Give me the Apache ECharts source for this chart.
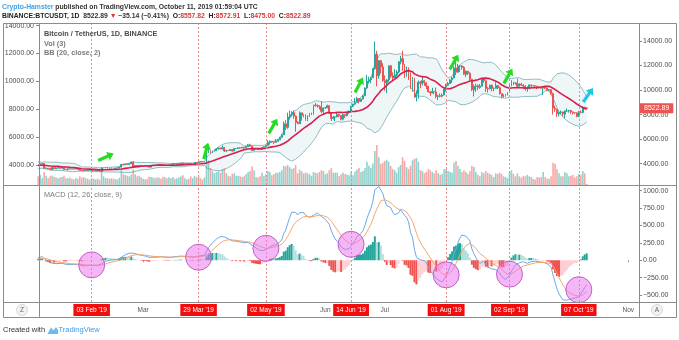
<!DOCTYPE html>
<html><head><meta charset="utf-8">
<script src="https://cdn.jsdelivr.net/npm/echarts@6/dist/echarts.min.js"></script>
<style>html,body{margin:0;padding:0;background:#fff}#c{width:679px;height:340px}</style>
</head><body><div id="c"></div>
<script>
// Daily BTCUSDT candles, 2018-12-01 .. 2019-10-11. x = day index relative to 2019-01-01
const firstDay = -31;
const firstOpen = 4040;
const closes = [
 4200,4140,3840,3950,3750,3500,3400,3410,3600,3480,3410,3480,3250,3200,3190,3200,3500,3660,3750,4120,3850,3990,3950,4040,3780,3800,3590,3860,3830,4080,3760,
 3797,3858,3766,3792,3770,4040,3985,3988,4011,3620,3630,3610,3500,3680,3580,3640,3670,3620,3720,3530,3550,3585,3560,3580,3565,3570,3530,3435,3400,3465,3435,
 3460,3500,3420,3420,3440,3400,3390,3650,3650,3700,3630,3650,3620,3600,3620,3645,3710,3930,3910,3980,3935,3990,4140,3770,3840,3820,3830,3820,
 3830,3840,3800,3715,3860,3875,3880,3865,3945,3930,3870,3885,3870,3880,3920,4010,3980,3985,4010,4050,3980,3990,4000,3990,3930,3950,4100,4090,4150,4140,4130,
 4150,4880,4975,4900,5040,5050,5200,5280,5200,5320,5030,5080,5070,5150,5030,5230,5240,5290,5270,5330,5290,5380,5530,5430,5080,5200,5200,5170,5150,5330,
 5370,5470,5750,5830,5780,5740,5830,5940,6150,6350,7250,6970,7800,7980,8180,7870,7350,7260,8150,7940,7990,7620,7880,7990,8060,8730,8780,8730,8660,8260,8540,
 8550,8730,8110,7680,7790,7810,8000,7930,7630,8000,7920,8170,8230,8690,8850,8980,9320,9080,9270,9530,10170,10720,10850,11010,11750,12930,11160,12400,11890,10770,
 10590,10830,11980,11160,10980,11230,11470,12310,12570,12100,11350,11800,11380,10200,10850,9420,9690,10640,10530,10760,10590,10320,9850,9770,9880,9850,9480,9530,9500,9590,10080,
 10400,10530,10820,10980,11800,11460,11960,11970,11850,11290,11540,11380,10880,10030,10300,10350,10220,10320,10920,10760,10130,10110,10400,10140,10140,10370,10190,9720,9490,9580,9600,
 9770,10390,10620,10580,10580,10320,10490,10400,10320,10100,10160,10420,10360,10360,10310,10260,10190,10160,10270,10170,9990,10030,9700,8530,8430,8070,8180,8210,8040,8300,
 8300,8340,8220,8150,8140,7860,8210,8180,8590,8558,8522.89
];
const highs = [
 4300,4310,4180,4080,3980,3880,3560,3500,3660,3630,3510,3540,3490,3280,3240,3260,3590,3680,3920,4150,4200,4000,4040,4240,4040,3880,3840,3890,3960,4140,4080,
 3850,3900,3870,3820,3850,4090,4070,4110,4060,4030,3690,3640,3620,3720,3700,3700,3680,3690,3790,3740,3560,3630,3620,3600,3580,3670,3580,3530,3440,3480,3485,
 3480,3510,3500,3440,3460,3450,3410,3720,3670,3700,3700,3670,3680,3630,3660,3690,3730,3990,4000,4000,4000,4000,4160,4210,3870,3850,3850,3900,
 3870,3850,3840,3820,3890,3910,3920,3950,3960,3950,3940,3900,3900,3920,3940,4080,4010,4060,4040,4060,4080,4010,4010,4010,4000,3960,4110,4100,4170,4170,4160,
 4190,5000,5350,5080,5060,5150,5250,5300,5280,5470,5330,5100,5120,5180,5190,5250,5270,5320,5330,5350,5340,5450,5600,5630,5470,5290,5230,5210,5200,5340,
 5400,5500,5900,5890,5840,5790,6000,6000,6180,6430,7450,7550,8150,8330,8280,8350,7950,7480,8260,8100,8060,8030,7950,8140,8160,8810,8930,8830,8740,9090,8580,
 8620,8810,8740,8110,7880,7860,8150,8050,7960,8080,8030,8240,8330,8720,8880,9350,9450,9320,9300,9600,10220,11240,11100,11080,11800,13970,13200,12450,12440,12200,
 11200,10900,11990,12050,11440,11700,11620,12350,12800,13200,12100,11900,11850,11450,11050,11000,9970,10780,10750,11100,10840,10650,10330,9920,10180,9900,10200,9600,9720,9720,10120,
 10500,10670,10910,11080,11930,12300,12130,12050,12030,11950,11600,11540,11450,10910,10450,10520,10460,10490,10960,10940,10760,10240,10440,10440,10200,10630,10390,10290,9720,9650,9670,
 9830,10440,10800,10680,10640,10920,10560,10590,10490,10390,10300,10450,10440,10420,10380,10350,10280,10270,10320,10290,10190,10090,10050,9800,8740,8480,8250,8330,8240,8340,
 8500,8370,8380,8240,8190,8170,8300,8330,8650,8640,8572.91
];
const lows = [
 3950,4070,3800,3780,3725,3470,3220,3300,3390,3440,3380,3400,3230,3170,3150,3180,3190,3440,3650,3740,3820,3800,3920,3950,3710,3720,3560,3580,3810,3820,3700,
 3707,3770,3730,3720,3760,3750,3970,3950,3980,3560,3560,3550,3480,3500,3560,3580,3600,3580,3620,3490,3500,3460,3540,3550,3530,3560,3500,3400,3380,3390,3420,
 3420,3440,3400,3400,3410,3370,3380,3380,3630,3620,3610,3590,3600,3570,3590,3620,3620,3700,3880,3900,3900,3920,3970,3740,3750,3800,3680,3800,
 3820,3800,3780,3690,3700,3830,3860,3820,3860,3900,3860,3830,3850,3810,3870,3920,3960,3940,3970,3990,3920,3970,3980,3960,3880,3910,3940,4060,4080,4110,4120,
 4110,4150,4860,4800,4900,4980,5040,5150,5160,5160,4950,4930,5050,5040,4980,5030,5210,5240,5220,5260,5230,5270,5370,5400,5040,5050,5170,5150,5110,5140,
 5320,5360,5460,5550,5720,5600,5730,5800,5930,6120,6340,6750,6850,7620,7850,7650,6600,7220,7250,7500,7780,7500,7460,7810,7960,8000,8650,8560,8420,8110,8030,
 8460,8530,8060,7480,7600,7450,7780,7790,7530,7520,7720,7850,8050,8170,8600,8800,8970,8920,9030,9230,9510,10100,10540,10560,10980,11650,10300,10920,11350,10680,
 9950,9750,10680,11000,10770,10980,11090,11380,12100,11570,10980,11090,10830,10100,9870,9370,9070,9300,10150,10370,10350,10080,9820,9530,9740,9650,9330,9180,9400,9400,9570,
 9880,10350,10510,10570,10950,11220,11420,11480,11660,11240,11060,11230,10780,9920,9470,9850,9990,10100,10280,10600,9850,9800,10050,9900,9900,10140,10070,9620,9320,9370,9450,
 9560,9760,10300,10410,10450,10160,10300,10330,10100,9950,9860,10050,10160,10300,10270,10070,10140,10100,9600,10080,9950,9900,9620,8000,8220,7800,7860,8010,7870,7710,
 8220,8160,8060,8010,8050,7790,7790,8120,8110,8450,8475.00
];
// volume, thousands of BTC
const volumes = [
 28,30,35,30,33,40,45,35,30,28,25,27,35,30,22,20,40,45,50,55,48,38,30,35,40,33,38,35,28,32,33,
 23,28,25,22,20,30,28,33,22,42,30,22,28,30,27,25,22,24,26,30,22,22,24,20,18,22,20,28,24,25,22,
 20,17,22,20,18,21,17,45,28,22,22,20,22,20,19,18,23,48,35,32,30,28,34,50,35,28,30,25,
 20,18,20,27,26,24,22,25,24,20,27,25,22,25,22,26,20,22,24,28,32,22,18,20,28,22,30,25,28,22,18,
 25,75,80,55,45,38,42,45,40,50,55,38,30,28,36,38,30,30,28,26,28,36,42,45,60,48,26,24,28,40,
 30,35,45,42,32,36,40,40,42,48,62,60,65,58,52,55,65,38,50,45,38,40,38,35,30,42,40,38,42,48,45,
 35,38,48,55,40,40,40,28,35,40,36,34,32,42,32,44,50,55,42,45,55,75,62,55,70,110,130,90,68,72,
 78,82,75,62,52,48,40,58,65,90,78,58,52,62,80,85,88,75,48,45,38,42,52,48,42,38,48,38,33,36,52,
 52,45,42,40,72,78,62,52,42,48,42,36,45,62,58,42,33,28,42,38,45,40,36,33,26,38,36,40,36,28,26,
 22,42,48,36,28,38,28,24,30,28,33,28,26,20,18,26,24,26,42,26,20,20,28,72,68,52,38,28,28,42,
 38,28,30,33,24,28,36,33,45,38,4
];
const lastPrice = 8522.89;
const markerDays = [33, 87, 121, 164, 212, 244, 279];
const markerLabels = ["03 Feb '19", "29 Mar '19", "02 May '19", "14 Jun '19", "01 Aug '19", "02 Sep '19", "07 Oct '19"];
const monthDays = [59, 151, 181, 304];
const monthLabels = ["Mar", "Jun", "Jul", "Nov"];
const priceTicks = [4000, 6000, 8000, 10000, 12000, 14000];
const macdTicks = [-500, -250, 0, 250, 500, 750, 1000];
const arrowDays = [40.2, 90.7, 124.6, 168, 216, 243.3];
const arrowPrices = [4542, 5032, 7070, 10413, 12288, 11146];
const cyanArrowDay = 283.7, cyanArrowPrice = 9597;
const circleDays = [33, 87, 121, 164, 212, 244, 279];
const circleValues = [-67, 43, 171, 229, -210, -200, -424];

// ---------- derived series ----------
const xs = closes.map((_, i) => firstDay + i);
const opens = closes.map((c, i) => i === 0 ? firstOpen : closes[i - 1]);
opens[opens.length - 1] = 8557.82;
const candles = closes.map((c, i) => {
  const o = opens[i];
  return [xs[i], o, c, Math.min(lows[i], o, c), Math.max(highs[i], o, c)];
});
const UP = '#26a69a', DOWN = '#ef5350';
const volData = volumes.map((v, i) => ({
  value: [xs[i], v],
  itemStyle: { color: closes[i] >= opens[i] ? 'rgba(38,166,154,0.5)' : 'rgba(239,83,80,0.5)' }
}));
// Bollinger Bands (20, close, 2)
const bbMid = [], bbLo = [], bbUp = [];
for (let i = 19; i < closes.length; i++) {
  const w = closes.slice(i - 19, i + 1);
  const m = w.reduce((a, b) => a + b, 0) / 20;
  const sd = Math.sqrt(w.reduce((a, b) => a + (b - m) * (b - m), 0) / 20);
  bbMid.push([xs[i], m]); bbLo.push([xs[i], m - 2 * sd]); bbUp.push([xs[i], m + 2 * sd]);
}
// MACD (12, 26, close, 9)
function ema(arr, n) { const k = 2 / (n + 1); let p = arr[0]; return arr.map((v, i) => (p = i === 0 ? v : v * k + p * (1 - k))); }
const e12 = ema(closes, 12), e26 = ema(closes, 26);
const macd = closes.map((_, i) => e12[i] - e26[i]);
const sig = ema(macd, 9);
const hist = macd.map((m, i) => m - sig[i]);
const histData = hist.map((h, i) => {
  const prev = i > 0 ? hist[i - 1] : h;
  let col;
  if (h >= 0) col = h >= prev ? '#26a69a' : '#b2dfdb';
  else col = h < prev ? '#ef5350' : '#ffcdd2';
  return { value: [xs[i], h], itemStyle: { color: col } };
});
const macdLine = macd.map((m, i) => [xs[i], m]);
const sigLine = sig.map((m, i) => [xs[i], m]);

const FONT = 'Liberation Sans';
const XMIN = 6.4, XMAX = 309.4;
const fmt = v => (v < 0 ? '\u2212' : '') + Math.abs(v).toFixed(2);
const arrowPath = 'path://M4,0 L8.5,5.5 L5.6,5.5 L5.6,15 L2.4,15 L2.4,5.5 L-0.5,5.5 Z';
const arrowRot = [-66, -15, -30, -28, -30, -30];

const vLines = markerDays.map(d => ({ xAxis: d }));
const vLineStyle = { color: '#f08a8a', type: [2, 2], width: 1 };
const HS = 6.8;

const chart = echarts.init(document.getElementById('c'));
chart.setOption({
  animation: false,
  backgroundColor: '#fff',
  textStyle: { fontFamily: FONT },
  title: [
    {
      left: 2, top: 2, padding: 0,
      text: '{a|Crypto-Hamster}{b| published on TradingView.com, October 11, 2019 01:59:04 UTC}\n' +
        '{c|BINANCE:BTCUSDT, 1D}{b|  8522.89 }{r|\u25BC}{b| \u221235.14 (\u22120.41%)  }{c|O:}{r|8557.82}{c|  H:}{r|8572.91}{c|  L:}{r|8475.00}{c|  C:}{r|8522.89}',
      textStyle: {
        fontFamily: FONT, lineHeight: 9.3,
        rich: {
          a: { color: '#3fa0e6', fontSize: HS, fontFamily: FONT, lineHeight: 9.3 },
          b: { color: '#333', fontSize: HS, fontFamily: FONT, lineHeight: 9.3 },
          c: { color: '#222', fontSize: HS, fontWeight: 'bold', fontFamily: FONT, lineHeight: 9.3 },
          r: { color: '#d63a3a', fontSize: HS, fontFamily: FONT, lineHeight: 9.3 }
        }
      }
    },
    {
      left: 44, top: 29.5, padding: 0,
      text: '{t|Bitcoin / TetherUS, 1D, BINANCE}\n{s|Vol (3)}\n{s|BB (20, close, 2)}',
      textStyle: {
        rich: {
          t: { color: '#4a4a4a', fontSize: 7.3, fontFamily: FONT, lineHeight: 9.5 },
          s: { color: '#7a7a7a', fontSize: 7.3, fontFamily: FONT, lineHeight: 9.5 }
        }
      }
    },
    {
      left: 44, top: 191, padding: 0,
      text: 'MACD (12, 26, close, 9)',
      textStyle: { color: '#7a7a7a', fontSize: 7.3, fontWeight: 'normal', fontFamily: FONT }
    }
  ],
  grid: [
    { left: 39, right: 40, top: 23, height: 162, show: false },
    { left: 39, right: 40, top: 185, height: 117, show: false }
  ],
  xAxis: [
    { type: 'value', gridIndex: 0, min: XMIN, max: XMAX, show: false, splitLine: { show: false } },
    {
      type: 'value', gridIndex: 1, min: XMIN, max: XMAX, splitLine: { show: false },
      axisLine: { show: false },
      axisTick: { show: true, length: 2, inside: false, customValues: monthDays, lineStyle: { color: '#999' } },
      axisLabel: {
        customValues: markerDays.concat(monthDays), margin: 2,
        formatter: v => {
          const i = markerDays.indexOf(v);
          if (i >= 0) return '{r|' + markerLabels[i] + '}';
          return '{p|' + monthLabels[monthDays.indexOf(v)] + '}';
        },
        rich: {
          r: { backgroundColor: '#f20d0d', color: '#fff', fontSize: 6.5, padding: [3, 3, 2, 3], fontFamily: FONT },
          p: { color: '#555', fontSize: 6.5, padding: [3, 3, 2, 3], fontFamily: FONT }
        }
      }
    }
  ],
  yAxis: [
    { // 0 price (right)
      type: 'value', gridIndex: 0, position: 'right', min: 2259, max: 15468, splitLine: { show: false },
      axisLine: { show: false },
      axisTick: { show: true, length: 3, customValues: priceTicks, lineStyle: { color: '#888' } },
      axisLabel: { customValues: priceTicks, formatter: fmt, color: '#4d4d4d', fontSize: 7, margin: 4, fontFamily: FONT }
    },
    { // 1 left price scale
      type: 'value', gridIndex: 0, position: 'left', min: 2573, max: 14186, splitLine: { show: false },
      axisLine: { show: false },
      axisTick: { show: true, length: 3, customValues: priceTicks, lineStyle: { color: '#888' } },
      axisLabel: { customValues: priceTicks, formatter: fmt, color: '#4d4d4d', fontSize: 7, margin: 5, fontFamily: FONT }
    },
    { // 2 volume
      type: 'value', gridIndex: 0, position: 'right', min: 0, max: 525, show: false, splitLine: { show: false }
    },
    { // 3 last price tag
      type: 'value', gridIndex: 0, position: 'right', min: 2259, max: 15468, splitLine: { show: false }, z: 10,
      axisLine: { show: false }, axisTick: { show: false },
      axisLabel: {
        customValues: [lastPrice], formatter: fmt, color: '#fff', backgroundColor: '#ef5350',
        padding: [2, 4, 1, 4], fontSize: 7, margin: 1, fontFamily: FONT
      }
    },
    { // 4 MACD
      type: 'value', gridIndex: 1, position: 'right', min: -600, max: 1081, splitLine: { show: false },
      axisLine: { show: false },
      axisTick: { show: true, length: 3, customValues: macdTicks, lineStyle: { color: '#888' } },
      axisLabel: { customValues: macdTicks, formatter: fmt, color: '#4d4d4d', fontSize: 7, margin: 4, fontFamily: FONT }
    }
  ],
  series: [
    {
      name: 'BB upper', type: 'line', xAxisIndex: 0, yAxisIndex: 0, data: bbUp,
      symbol: 'none', lineStyle: { color: '#8fbcc0', width: 1 },
      areaStyle: { color: '#eef6f7', opacity: 1 }, z: 0
    },
    {
      name: 'BB lower', type: 'line', xAxisIndex: 0, yAxisIndex: 0, data: bbLo,
      symbol: 'none', lineStyle: { color: '#8fbcc0', width: 1 },
      areaStyle: { color: '#ffffff', opacity: 1 }, z: 0
    },
    {
      name: 'Vol', type: 'bar', xAxisIndex: 0, yAxisIndex: 2, data: volData, barWidth: 1.6, z: 1
    },
    {
      name: 'Price', type: 'candlestick', xAxisIndex: 0, yAxisIndex: 0, data: candles,
      encode: { x: 0, y: [1, 2, 3, 4] }, barWidth: '72%', z: 3,
      itemStyle: { color: UP, color0: DOWN, borderColor: UP, borderColor0: DOWN, borderWidth: 1 },
      markLine: { silent: true, symbol: 'none', label: { show: false }, lineStyle: vLineStyle, data: vLines },
      markPoint: {
        data: arrowDays.map((d, i) => ({
          coord: [d, arrowPrices[i]], symbol: arrowPath, symbolSize: [9, 17], symbolRotate: arrowRot[i],
          itemStyle: { color: '#22dd22' }, label: { show: false }
        })).concat([{
          coord: [cyanArrowDay, cyanArrowPrice], symbol: arrowPath, symbolSize: [9, 17], symbolRotate: -35,
          itemStyle: { color: '#1ec8e6' }, label: { show: false }
        }])
      }
    },
    {
      name: 'BB basis', type: 'line', xAxisIndex: 0, yAxisIndex: 0, data: bbMid,
      symbol: 'none', lineStyle: { color: '#d81e4e', width: 1.6 }, z: 4
    },
    {
      name: 'Histogram', type: 'bar', xAxisIndex: 1, yAxisIndex: 4, data: histData, barWidth: 2, z: 2,
      markLine: { silent: true, symbol: 'none', label: { show: false }, lineStyle: vLineStyle, data: vLines }
    },
    {
      name: 'MACD', type: 'line', xAxisIndex: 1, yAxisIndex: 4, data: macdLine,
      symbol: 'none', lineStyle: { color: '#6aa8e8', width: 1 }, z: 3
    },
    {
      name: 'Signal', type: 'line', xAxisIndex: 1, yAxisIndex: 4, data: sigLine,
      symbol: 'none', lineStyle: { color: '#f5a56a', width: 1 }, z: 3,
      markPoint: {
        data: circleDays.map((d, i) => ({
          coord: [d, circleValues[i]], symbol: 'circle', symbolSize: 26,
          itemStyle: { color: 'rgba(236,110,236,0.5)', borderColor: '#c060c8', borderWidth: 1 },
          label: { show: false }
        }))
      }
    }
  ],
  graphic: [
    { type: 'rect', z: 100, silent: true, shape: { x: 3.5, y: 23.5, width: 673, height: 294 }, style: { fill: null, stroke: '#8c8c8c', lineWidth: 1 } },
    { type: 'line', z: 100, silent: true, shape: { x1: 39.5, y1: 23.5, x2: 39.5, y2: 317.5 }, style: { stroke: '#8c8c8c', lineWidth: 1 } },
    { type: 'line', z: 100, silent: true, shape: { x1: 639.5, y1: 23.5, x2: 639.5, y2: 317.5 }, style: { stroke: '#8c8c8c', lineWidth: 1 } },
    { type: 'line', z: 100, silent: true, shape: { x1: 3.5, y1: 185.5, x2: 676.5, y2: 185.5 }, style: { stroke: '#8c8c8c', lineWidth: 1 } },
    { type: 'line', z: 100, silent: true, shape: { x1: 3.5, y1: 302.5, x2: 676.5, y2: 302.5 }, style: { stroke: '#8c8c8c', lineWidth: 1 } },
    { type: 'circle', z: 100, silent: true, shape: { cx: 22, cy: 310, r: 5.5 }, style: { fill: '#f0f2f5', stroke: '#d8d8d8' } },
    { type: 'text', z: 101, silent: true, x: 22, y: 310, style: { text: 'Z', fill: '#666', fontSize: 6.5, fontFamily: FONT, align: 'center', verticalAlign: 'middle' } },
    { type: 'circle', z: 100, silent: true, shape: { cx: 657, cy: 310, r: 5.5 }, style: { fill: '#f0f2f5', stroke: '#d8d8d8' } },
    { type: 'text', z: 101, silent: true, x: 657, y: 310, style: { text: 'A', fill: '#666', fontSize: 6.5, fontFamily: FONT, align: 'center', verticalAlign: 'middle' } },
    { type: 'text', z: 101, silent: true, x: 3, y: 330, style: { text: 'Created with', fill: '#333', fontSize: 7.5, fontFamily: FONT, verticalAlign: 'middle' } },
    { type: 'polygon', z: 100, silent: true, shape: { points: [[47.5, 334], [51, 327.5], [53.5, 330.5], [56, 327], [58, 330], [58, 334]] }, style: { fill: '#6cb8ef' } },
    { type: 'text', z: 101, silent: true, x: 58.5, y: 330, style: { text: 'TradingView', fill: '#3d9be9', fontSize: 7.5, fontFamily: FONT, verticalAlign: 'middle' } }
  ]
});
</script></body></html>
